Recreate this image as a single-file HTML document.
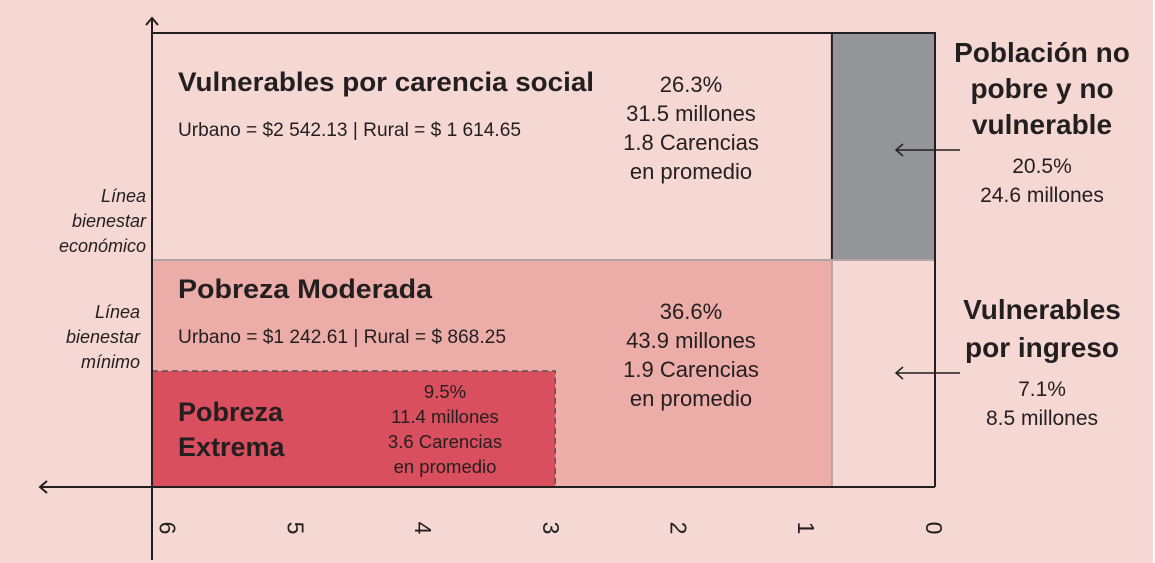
<!DOCTYPE html>
<html><head><meta charset="utf-8"><style>
html,body{margin:0;padding:0;background:#fff}
svg{display:block;font-family:"Liberation Sans",sans-serif}
</style></head><body>
<svg id="chart" width="1155" height="563" viewBox="0 0 1155 563">
<rect x="0" y="0" width="1153" height="563" fill="#f5d7d3"/>
<g id="marks"></g>
<g id="labels" fill="#231f20"></g>
</svg>
<script>
const tickLabels=["6","5","4","3","2","1","0"];
const tickValues=[6,5,4,3,2,1,0];
const carenciasModerada=0.79;
const carenciasExtrema=2.91;
const carenciasNoPobre=0.79;
const categories=["Vulnerables por carencia social","Pobreza Moderada","Pobreza Extrema","Población no pobre y no vulnerable","Vulnerables por ingreso"];
const percents=["26.3%","36.6%","9.5%","20.5%","7.1%"];
const millions=["31.5 millones","43.9 millones","11.4 millones","24.6 millones","8.5 millones"];
const carencias=["1.8 Carencias","1.9 Carencias","3.6 Carencias"];
const ns="http://www.w3.org/2000/svg";
const x=c=>935-c*130.5;
const tx=c=>932-127.7*c;
const yTop=33,yEco=260,yMin=371,yBot=487;
const marks=document.getElementById('marks'),labels=document.getElementById('labels');
function mk(tag,attrs,parent,txt){const e=document.createElementNS(ns,tag);for(const k in attrs)e.setAttribute(k,attrs[k]);if(txt!==undefined)e.textContent=txt;parent.appendChild(e);return e;}
let r;
r=mk('rect',{x:x(6),y:yEco,width:x(carenciasModerada)-x(6),height:yBot-yEco,fill:'#ecaca8'},marks);


r=mk('rect',{x:x(6),y:yMin,width:x(carenciasExtrema)-x(6),height:yBot-yMin,fill:'#d94f5e',stroke:'#555',"stroke-width":1.5,"stroke-dasharray":"6,4"},marks);


r=mk('rect',{x:x(carenciasNoPobre),y:yTop,width:x(0)-x(carenciasNoPobre),height:yEco-yTop,fill:'#939598',stroke:'#231f20',"stroke-width":2},marks);


r=mk('line',{x1:x(6),y1:yEco,x2:x(0),y2:yEco,stroke:'#b3a4a4',"stroke-width":2},marks);


r=mk('line',{x1:x(carenciasModerada),y1:yEco,x2:x(carenciasModerada),y2:yBot,stroke:'#b3a4a4',"stroke-width":2},marks);


r=mk('path',{d:`M${x(6)} ${yTop}H${x(0)}V${yBot}`,fill:'none',stroke:'#231f20',"stroke-width":2},marks);


r=mk('path',{d:`M152 560V18M146 25L152 18L158 25M${x(0)} ${yBot}H40M47 481L40 487L47 493`,fill:'none',stroke:'#231f20',"stroke-width":2},marks);


r=mk('path',{d:'M960 150H896M903 144L896 150L903 156M960 373H896M903 367L896 373L903 379',fill:'none',stroke:'#231f20',"stroke-width":1.5},marks);


tickValues.forEach((v,i)=>{const t=mk('text',{x:0,y:0,transform:`translate(${tx(v)},528) rotate(90)`,"font-size":23,"text-anchor":"middle","dominant-baseline":"middle"},labels,tickLabels[i]);

});
function T(str,px,py,size,weight,anchor,name,style,len){const a={x:px,y:py,"font-size":size,"font-weight":weight||'normal',"text-anchor":anchor||'start',"font-style":style||'normal'};if(len){a.textLength=len;a.lengthAdjust='spacingAndGlyphs';}const t=mk('text',a,labels,str);


return t;}
T(categories[0],178,91,27,'bold','start','vulnerables-carencia-title',null,416);
T("Urbano = $2 542.13 | Rural = $ 1 614.65",178,136,19,'normal','start','vulnerables-carencia-line',null,343);
[percents[0],millions[0],carencias[0],"en promedio"].forEach((s,i)=>T(s,691,92+i*29,22,'normal','middle','vulnerables-carencia-stat'));
T(categories[1],178,298,27,'bold','start','pobreza-moderada-title',null,254);
T("Urbano = $1 242.61 | Rural = $ 868.25",178,343,19,'normal','start','pobreza-moderada-line',null,328);
[percents[1],millions[1],carencias[1],"en promedio"].forEach((s,i)=>T(s,691,319+i*29,22,'normal','middle','pobreza-moderada-stat'));
T("Pobreza",178,421,27,'bold','start','pobreza-extrema-title');
T("Extrema",178,456,27,'bold','start','pobreza-extrema-title');
[percents[2],millions[2],carencias[2],"en promedio"].forEach((s,i)=>T(s,445,398+i*25,18.5,'normal','middle','pobreza-extrema-stat'));
["Población no","pobre y no","vulnerable"].forEach((s,i)=>T(s,1042,62+i*36,28,'bold','middle','no-pobre-title'));
T(percents[3],1042,173,21,'normal','middle','no-pobre-stat');
T(millions[3],1042,202,21,'normal','middle','no-pobre-stat');
["Vulnerables","por ingreso"].forEach((s,i)=>T(s,1042,319+i*38,28,'bold','middle','vulnerables-ingreso-title'));
T(percents[4],1042,396,21,'normal','middle','vulnerables-ingreso-stat');
T(millions[4],1042,425,21,'normal','middle','vulnerables-ingreso-stat');
["Línea","bienestar","económico"].forEach((s,i)=>T(s,146,202+i*25,18,'normal','end','linea-bienestar-economico-label','italic'));
["Línea","bienestar","mínimo"].forEach((s,i)=>T(s,140,318+i*25,18,'normal','end','linea-bienestar-minimo-label','italic'));
</script>
</body></html>
